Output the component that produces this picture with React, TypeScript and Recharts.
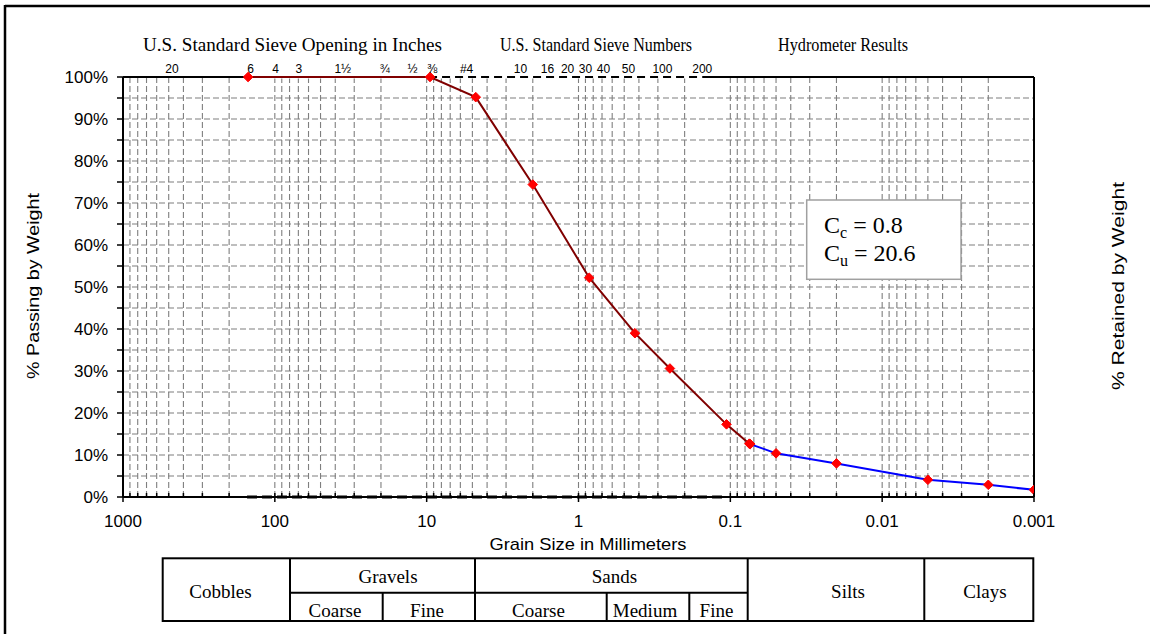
import React from 'react';
import { ComposedChart, Line, XAxis, YAxis, CartesianGrid } from 'recharts';

const W = 1150;
const H = 634;

// Sieve analysis (grain size mm, % passing)
const sieveSize = [150, 9.5, 4.75, 2.0, 0.85, 0.425, 0.25, 0.106, 0.075];
const sievePassing = [100, 100, 95.2, 74.4, 52.2, 39.0, 30.6, 17.3, 12.7];

// Hydrometer results (grain size mm, % passing)
const hydroSize = [0.074, 0.05, 0.02, 0.005, 0.002, 0.001];
const hydroPassing = [12.6, 10.4, 8.0, 4.1, 2.9, 1.7];

// Plot frame top edge and the extent of the sieve stack along top/bottom
const frameSize = [1000, 0.001];
const topRangeSize = [152.4, 0.153];
const bottomRangeSize = [152.4, 0.106];

// Sieve labels across the top and where they sit on the size axis
const topTickLabels = ['20', '6', '4', '3', '1½', '¾', '½', '⅜', '#4', '10', '16', '20', '30', '40', '50', '100', '200'];
const topTickAt = [476, 144.5, 98.9, 69.5, 35.7, 18.9, 12.4, 9.17, 5.46, 2.41, 1.6, 1.18, 0.9, 0.685, 0.469, 0.28, 0.153];

const majorTicks = [1000, 100, 10, 1, 0.1, 0.01, 0.001];
const decades = [100, 10, 1, 0.1, 0.01, 0.001];
const minorSteps = [1, 2, 3, 4, 5, 6, 7, 8, 9];
const gridTicks = [1000, ...decades.flatMap((d) => minorSteps.map((k) => k * d))];

const passingTicks = [0, 5, 10, 15, 20, 25, 30, 35, 40, 45, 50, 55, 60, 65, 70, 75, 80, 85, 90, 95, 100];
const retainedTicks = [0, 10, 20, 30, 40, 50, 60, 70, 80, 90, 100];

const sieveData = sieveSize.map((size, i) => ({ size, pct: sievePassing[i] }));
const hydroData = hydroSize.map((size, i) => ({ size, pct: hydroPassing[i] }));
const frameTop = frameSize.map((size) => ({ size, pct: 100 }));
const topRange = topRangeSize.map((size) => ({ size, pct: 100 }));
const bottomRange = bottomRangeSize.map((size) => ({ size, pct: 0 }));

const SANS = '"Liberation Sans", Arial, sans-serif';
const SERIF = '"Liberation Serif", "Times New Roman", serif';

const tickStyle = { fontFamily: SANS, fontSize: 17, fill: '#000' };

const renderDiamond = (p: any) => {
  const { cx, cy, index } = p;
  if (cx == null || cy == null) return <g key={`e-${index}`} />;
  const r = 4.8;
  return (
    <path
      key={`d-${index}`}
      d={`M${cx},${cy - r}L${cx + r},${cy}L${cx},${cy + r}L${cx - r},${cy}Z`}
      fill="#ff0000"
      stroke="#ff0000"
      strokeWidth={1}
    />
  );
};

// bottom axis: short inward ticks at every grid value, longer ones + labels at decades
const SizeTick = (p: any) => {
  const { x, y, payload } = p;
  const v = payload.value;
  const major = majorTicks.includes(v);
  return (
    <g>
      <line x1={x} x2={x} y1={y - 4} y2={major ? y + 5 : y} stroke="#000" strokeWidth={1.5} />
      {major && (
        <text x={x} y={y + 30} textAnchor="middle" fontFamily={SANS} fontSize={17} fill="#000">
          {String(v)}
        </text>
      )}
    </g>
  );
};

const logAxis = {
  type: 'number' as const,
  scale: 'log' as const,
  domain: [0.001, 1000],
  allowDataOverflow: true,
  reversed: true,
  dataKey: 'size',
  interval: 0 as const,
};

const Overlay = () => (
  <svg width={W} height={H} style={{ position: 'absolute', left: 0, top: 0, pointerEvents: 'none' }}>
    {/* frame */}
    <line x1={5} y1={6} x2={W} y2={6} stroke="#000" strokeWidth={2.5} />
    <line x1={5} y1={5} x2={5} y2={H} stroke="#000" strokeWidth={2.5} />

    {/* headings */}
    <g fontFamily={SERIF} fontSize={18} fill="#000" textAnchor="middle">
      <text x={292.5} y={51} textLength={299} lengthAdjust="spacingAndGlyphs">U.S. Standard Sieve Opening in Inches</text>
      <text x={596} y={51} textLength={192} lengthAdjust="spacingAndGlyphs">U.S. Standard Sieve Numbers</text>
      <text x={843} y={51} textLength={130} lengthAdjust="spacingAndGlyphs">Hydrometer Results</text>
    </g>

    {/* axis titles */}
    <g fontFamily={SANS} fontSize={17} fill="#000" textAnchor="middle">
      <text transform="translate(39,286) rotate(-90)" textLength={186} lengthAdjust="spacingAndGlyphs">% Passing by Weight</text>
      <text transform="translate(1124,286) rotate(-90)" textLength={208} lengthAdjust="spacingAndGlyphs">% Retained by Weight</text>
      <text x={588} y={550} textLength={197} lengthAdjust="spacingAndGlyphs">Grain Size in Millimeters</text>
    </g>

    {/* coefficients box */}
    <rect x={806.7} y={200} width={154.3} height={79.3} fill="#fff" stroke="#a0a0a0" strokeWidth={1.5} />
    <g fontFamily={SERIF} fontSize={24} fill="#000">
      <text x={824} y={233}>
        C<tspan fontSize={16} dy={5}>c</tspan>
        <tspan dy={-5}> = 0.8</tspan>
      </text>
      <text x={824} y={261}>
        C<tspan fontSize={16} dy={5}>u</tspan>
        <tspan dy={-5}> = 20.6</tspan>
      </text>
    </g>

    {/* soil classification table */}
    <g stroke="#000" strokeWidth={2} fill="none">
      <rect x={162.7} y={558.3} width={870.6} height={62.7} />
      <line x1={290} y1={558.3} x2={290} y2={621} />
      <line x1={475} y1={558.3} x2={475} y2={621} />
      <line x1={747.7} y1={558.3} x2={747.7} y2={621} />
      <line x1={924.3} y1={558.3} x2={924.3} y2={621} />
      <line x1={290} y1={592.7} x2={747.7} y2={592.7} />
      <line x1={382.7} y1={592.7} x2={382.7} y2={621} />
      <line x1={606.7} y1={592.7} x2={606.7} y2={621} />
      <line x1={689.3} y1={592.7} x2={689.3} y2={621} />
    </g>
    <g fontFamily={SERIF} fontSize={19} fill="#000" textAnchor="middle">
      <text x={220.5} y={598}>Cobbles</text>
      <text x={388} y={583}>Gravels</text>
      <text x={335} y={616.5}>Coarse</text>
      <text x={427} y={616.5}>Fine</text>
      <text x={614.5} y={583}>Sands</text>
      <text x={538.5} y={616.5}>Coarse</text>
      <text x={645} y={616.5}>Medium</text>
      <text x={716.5} y={616.5}>Fine</text>
      <text x={848} y={598}>Silts</text>
      <text x={985} y={598}>Clays</text>
    </g>
  </svg>
);

export default function App() {
  return (
    <div style={{ position: 'absolute', left: 0, top: 0, width: W, height: H, background: '#fff', overflow: 'hidden' }}>
      <ComposedChart width={W} height={H} margin={{ top: 57, right: 56, bottom: 107, left: 63 }}>
        <XAxis
          {...logAxis}
          xAxisId="main"
          orientation="bottom"
          height={30}
          ticks={gridTicks}
          tick={<SizeTick />}
          tickSize={0}
          tickMargin={0}
          tickLine={false}
          axisLine={{ stroke: '#000', strokeWidth: 2 }}
        />
        <XAxis
          {...logAxis}
          xAxisId="top"
          orientation="top"
          height={20}
          ticks={topTickAt}
          tickFormatter={(v: number) => topTickLabels[topTickAt.indexOf(v)] ?? ''}
          tick={{ fontFamily: SANS, fontSize: 12, fill: '#000' }}
          tickSize={0}
          tickMargin={4}
          tickLine={false}
          axisLine={false}
        />
        <YAxis
          yAxisId="left"
          type="number"
          domain={[0, 100]}
          ticks={passingTicks}
          interval={0}
          width={60}
          tickFormatter={(v: number) => (v % 10 === 0 ? `${v}%` : '')}
          tick={tickStyle}
          tickSize={6}
          tickMargin={9}
          axisLine={{ stroke: '#000', strokeWidth: 2 }}
          tickLine={{ stroke: '#000', strokeWidth: 1.5 }}
        />
        <YAxis
          yAxisId="right"
          orientation="right"
          type="number"
          domain={[0, 100]}
          reversed
          ticks={retainedTicks}
          interval={0}
          width={60}
          tickFormatter={(v: number) => `${v}%`}
          tick={{ ...tickStyle, textAnchor: 'start' }}
          tickSize={0}
          tickMargin={14}
          tickLine={false}
          axisLine={{ stroke: '#000', strokeWidth: 2 }}
        />
        <CartesianGrid
          xAxisId="main"
          yAxisId="left"
          stroke="#7f7f7f"
          strokeDasharray="6 3"
          strokeWidth={1.1}
        />

        {/* top edge of the plot frame, broken by the sieve range */}
        <Line data={frameTop} xAxisId="main" yAxisId="left" dataKey="pct" stroke="#000" strokeWidth={2} dot={false} isAnimationActive={false} />
        <Line data={topRange} xAxisId="main" yAxisId="left" dataKey="pct" stroke="#fff" strokeWidth={3} dot={false} isAnimationActive={false} />
        <Line data={topRange} xAxisId="main" yAxisId="left" dataKey="pct" stroke="#000" strokeWidth={1.8} strokeDasharray="8 5" dot={false} isAnimationActive={false} />
        <Line data={bottomRange} xAxisId="main" yAxisId="left" dataKey="pct" stroke="#000" strokeWidth={3} strokeDasharray="10 5" dot={false} isAnimationActive={false} />

        {/* results */}
        <Line data={sieveData} xAxisId="main" yAxisId="left" type="linear" dataKey="pct" stroke="#800000" strokeWidth={2} dot={renderDiamond} isAnimationActive={false} />
        <Line data={hydroData} xAxisId="main" yAxisId="left" type="linear" dataKey="pct" stroke="#0000ff" strokeWidth={2} dot={renderDiamond} isAnimationActive={false} />
      </ComposedChart>
      <Overlay />
    </div>
  );
}
